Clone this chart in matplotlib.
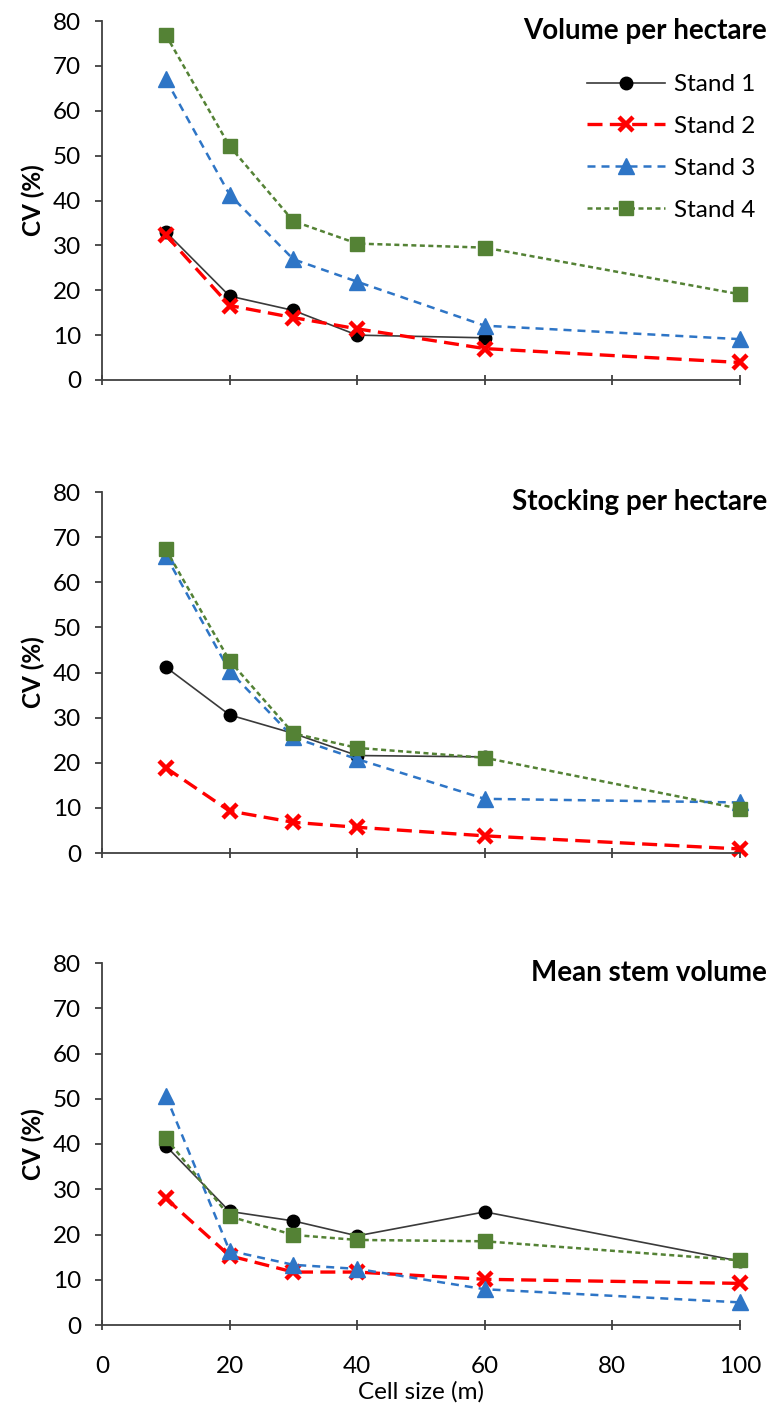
import numpy as np
import matplotlib
matplotlib.use("Agg")
import matplotlib.pyplot as plt

plt.rcParams['font.family'] = ['Lato', 'DejaVu Sans']

cell_size = [10, 20, 30, 40, 60, 100]
nan = np.nan

titles = ["Volume per hectare", "Stocking per hectare", "Mean stem volume"]
series_names = ["Stand 1", "Stand 2", "Stand 3", "Stand 4"]

# Volume per hectare
vol_s1 = [33.0, 18.7, 15.5, 10.0, 9.4, nan]
vol_s2 = [32.3, 16.6, 13.9, 11.4, 7.0, 3.9]
vol_s3 = [67.0, 41.3, 26.9, 21.9, 12.1, 9.1]
vol_s4 = [76.9, 52.1, 35.4, 30.4, 29.5, 19.1]

# Stocking per hectare
stk_s1 = [41.2, 30.6, 26.5, 21.6, 21.3, nan]
stk_s2 = [18.9, 9.3, 6.8, 5.7, 3.8, 0.9]
stk_s3 = [65.9, 40.3, 25.6, 20.8, 12.0, 11.2]
stk_s4 = [67.3, 42.6, 26.5, 23.3, 21.1, 9.8]

# Mean stem volume
msv_s1 = [39.6, 25.1, 23.0, 19.7, 25.0, 14.1]
msv_s2 = [28.0, 15.3, 11.7, 11.7, 10.1, 9.2]
msv_s3 = [50.7, 16.4, 13.3, 12.4, 7.9, 5.0]
msv_s4 = [41.3, 24.0, 19.9, 18.8, 18.5, 14.3]

panels = [
    [vol_s1, vol_s2, vol_s3, vol_s4],
    [stk_s1, stk_s2, stk_s3, stk_s4],
    [msv_s1, msv_s2, msv_s3, msv_s4],
]

styles = [
    dict(color='#3a3a3a', lw=1.2, ls='-', marker='o', ms=9, mfc='black', mec='black'),
    dict(color='#ff0000', lw=2.4, ls=(0, (4.5, 2.2)), marker='x', ms=10, mew=3.2, mec='#ff0000'),
    dict(color='#2e75c6', lw=1.8, ls=(0, (3.2, 2.4)), marker='^', ms=11.5, mfc='#2e75c6', mec='#2e75c6'),
    dict(color='#548235', lw=1.8, ls=(0, (2.0, 1.4)), marker='s', ms=9.5, mfc='#548235', mec='#548235'),
]

W, H = 773, 1410
fig = plt.figure(figsize=(W / 100, H / 100), dpi=100)

ax_left = 102 / W
ax_width = (740 - 102) / W
tops = [21, 492, 963]
bottoms = [380, 853, 1325]

for i, (data, title) in enumerate(zip(panels, titles)):
    b = 1 - bottoms[i] / H
    h = (bottoms[i] - tops[i]) / H
    ax = fig.add_axes([ax_left, b, ax_width, h])
    handles = []
    for vals, name, st in zip(data, series_names, styles):
        ln, = ax.plot(cell_size, vals, label=name, clip_on=False, **st)
        handles.append(ln)
    ax.set_xlim(0, 100)
    ax.set_ylim(0, 80)
    ax.set_xticks([0, 20, 40, 60, 80, 100])
    ax.set_yticks(range(0, 81, 10))
    for s in ['top', 'right']:
        ax.spines[s].set_visible(False)
    for s in ['left', 'bottom']:
        ax.spines[s].set_color('#404040')
        ax.spines[s].set_linewidth(1.3)
    ax.tick_params(axis='y', direction='out', length=5, width=1.3, color='#404040',
                   labelsize=17.5, pad=10)
    ax.tick_params(axis='x', direction='inout', length=6.5, width=1.3, color='#404040',
                   labelsize=17.5, pad=19)
    if i < 2:
        ax.tick_params(axis='x', labelbottom=False)
    else:
        ax.set_xlabel("Cell size (m)", fontsize=17.5, labelpad=3)
    ax.set_ylabel("CV (%)", fontsize=17.5, fontweight='bold', labelpad=6)
    ax.text(767 / W, 1 - (tops[i] + 10) / H, title, transform=fig.transFigure,
            ha='right', va='center', fontsize=20, fontweight='bold')
    if i == 0:
        leg = ax.legend(handles=handles, loc='upper left',
                        bbox_to_anchor=(587 / W, 1 - 74 / H),
                        bbox_transform=fig.transFigure,
                        frameon=False, fontsize=17.5, handlelength=3.2,
                        handletextpad=0.4, labelspacing=0.86, borderaxespad=0,
                        borderpad=0)

fig.savefig("out.png", dpi=100)
